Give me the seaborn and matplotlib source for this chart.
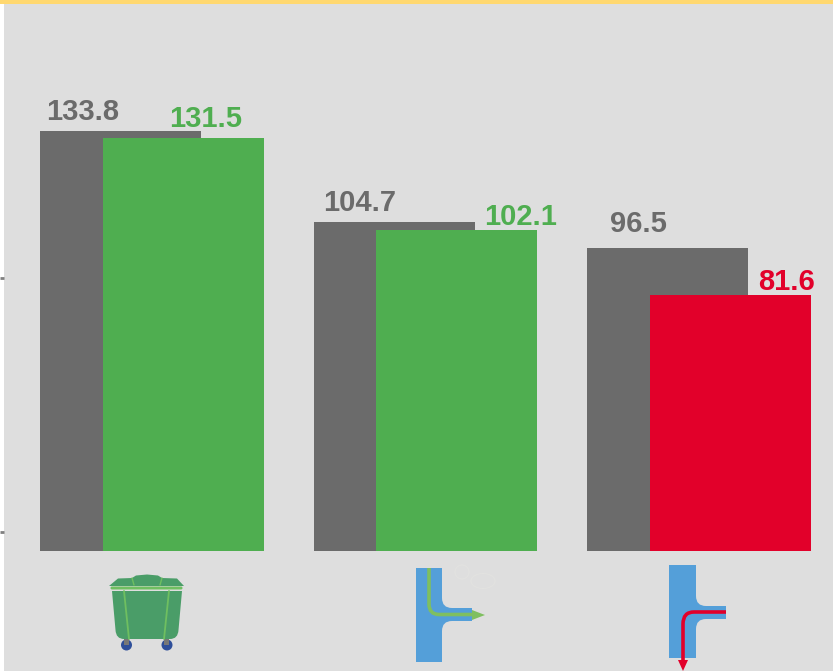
import numpy as np
import pandas as pd
import seaborn as sns
import matplotlib.pyplot as plt
from matplotlib.patches import Rectangle, Polygon, Circle, Ellipse, PathPatch, FancyBboxPatch
from matplotlib.path import Path

# values
groups = [0, 1, 2]
grey_values = [133.8, 104.7, 96.5]
front_values = [131.5, 102.1, 81.6]
front_status = ["good", "good", "bad"]
tick_values = [6.0, 86.8]

BG = "#DEDEDE"
GREY = "#6B6B6B"
GREEN = "#4FAE50"
RED = "#E2002A"
BLUE = "#549FD9"

sns.set_theme(style="white")
plt.rcParams['font.family'] = ['Liberation Sans', 'DejaVu Sans']

W, H = 833, 671
fig = plt.figure(figsize=(W / 100, H / 100), dpi=100, facecolor="white")

# plot area starts 4px in from the left and the top
ax = fig.add_axes([4 / W, 0, (W - 4) / W, (H - 4) / H])
ax.set_facecolor(BG)

grey_df = pd.DataFrame({"group": groups, "value": grey_values})
front_df = pd.DataFrame({"group": groups, "value": front_values, "status": front_status})
front_df["group"] = front_df["group"] + 62.5 / 273.5  # front bars sit shifted right

sns.barplot(data=grey_df, x="group", y="value", native_scale=True, color=GREY,
            saturation=1, width=161 / 273.5, linewidth=0, ax=ax, zorder=2)
sns.barplot(data=front_df, x="group", y="value", hue="status", native_scale=True,
            palette={"good": GREEN, "bad": RED}, saturation=1, dodge=False,
            width=161 / 273.5, linewidth=0, legend=False, ax=ax, zorder=3)

px_per_unit = 3.14
ax.set_xlim((4 - 120.7) / 273.5, (W - 120.7) / 273.5)
ax.set_ylim(-(H - 551) / px_per_unit, (551 - 4) / px_per_unit)
ax.set_xlabel("")
ax.set_ylabel("")
ax.set_xticks([])
ax.set_yticks(tick_values)
ax.set_yticklabels([])
ax.tick_params(axis="y", left=True, length=2.9, width=2, color="#808080", pad=0)
sns.despine(ax=ax, left=True, bottom=True)

# yellow strip across the top
fig.add_artist(Rectangle((0, (H - 4) / H), 1, 4 / H, transform=fig.transFigure,
                         facecolor="#FFD870", edgecolor="none"))

# overlay in reference pixels for the labels and icons
ov = fig.add_axes([0, 0, 1, 1], facecolor="none")
ov.set_xlim(0, W)
ov.set_ylim(H, 0)
ov.axis("off")

grey_label_pos = [(83, 120), (360, 211), (638, 232)]
front_label_pos = [(206, 127), (520.5, 225), (787, 290)]
for v, (x, y) in zip(grey_values, grey_label_pos):
    ov.text(x, y, f"{v:.1f}", color=GREY, fontsize=21, fontweight="bold", ha="center", va="baseline")
for v, s, (x, y) in zip(front_values, front_status, front_label_pos):
    ov.text(x, y, f"{v:.1f}", color=GREEN if s == "good" else RED, fontsize=21,
            fontweight="bold", ha="center", va="baseline")

# bin icon
BIN = "#4A9D68"
LID = "#6FBF60"
for cx in (126.5, 167):
    ov.add_patch(Circle((cx, 645), 5.5, facecolor="#2F4F9A", edgecolor="none"))
    ov.add_patch(Rectangle((cx - 2.5, 637), 5, 8, facecolor="#777777", edgecolor="none"))
ov.add_patch(PathPatch(Path([(112, 591), (182, 591), (178.5, 630), (178, 639), (170, 639), (124, 639),
                             (116, 639), (115.5, 630), (112, 591)],
                            [Path.MOVETO, Path.LINETO, Path.LINETO, Path.CURVE3, Path.CURVE3, Path.LINETO,
                             Path.CURVE3, Path.CURVE3, Path.CLOSEPOLY]),
                       facecolor=BIN, edgecolor="none"))
ov.add_patch(Polygon([(109, 586), (118, 578.5), (132, 578), (136, 575.5), (147, 574.5), (158, 575.5),
                      (162, 578), (177, 578.5), (184, 586)], closed=True, facecolor=BIN, edgecolor="none"))
ov.plot([132, 134], [578, 585], color=LID, lw=1)
ov.plot([162, 160], [578, 585], color=LID, lw=1)
ov.add_patch(FancyBboxPatch((110.5, 586.5), 72, 3, boxstyle="round,pad=0,rounding_size=1.5",
                            facecolor=LID, edgecolor="none"))
ov.plot([124, 129], [591, 639], color=LID, lw=1.3)
ov.plot([169, 164], [591, 639], color=LID, lw=1.3)


def junction(left, right, top, bottom, end, arm_top, arm_bot):
    verts = [(left, top), (right, top), (right, arm_top - 10), (right, arm_top), (right + 10, arm_top),
             (end, arm_top), (end, arm_bot), (right + 10, arm_bot), (right, arm_bot), (right, arm_bot + 10),
             (right, bottom), (left, bottom), (left, top)]
    codes = [Path.MOVETO, Path.LINETO, Path.LINETO, Path.CURVE3, Path.CURVE3,
             Path.LINETO, Path.LINETO, Path.LINETO, Path.CURVE3, Path.CURVE3,
             Path.LINETO, Path.LINETO, Path.CLOSEPOLY]
    return PathPatch(Path(verts, codes), facecolor=BLUE, edgecolor="none")


# middle icon, green line turning off to the side
ov.add_patch(Ellipse((462, 572), 14, 14, facecolor="none", edgecolor="#E2E2E0", lw=0.8))
ov.add_patch(Ellipse((483, 581), 24, 15, facecolor="none", edgecolor="#E2E2E0", lw=0.8))
ov.add_patch(junction(416, 442, 568, 662, 472, 608, 621))
line_green = "#7FBF60"
ov.add_patch(PathPatch(Path([(429, 568), (429, 604), (429, 614.5), (439, 614.5), (474, 614.5)],
                            [Path.MOVETO, Path.LINETO, Path.CURVE3, Path.CURVE3, Path.LINETO]),
                       facecolor="none", edgecolor=line_green, lw=2.6))
ov.add_patch(Polygon([(472, 610), (485, 615), (472, 620)], closed=True, facecolor=line_green, edgecolor="none"))

# right icon, red line turning down
ov.add_patch(junction(669, 696, 565, 658, 726, 606, 619))
ov.add_patch(PathPatch(Path([(726, 612), (694, 612), (683, 612), (683, 624), (683, 662)],
                            [Path.MOVETO, Path.LINETO, Path.CURVE3, Path.CURVE3, Path.LINETO]),
                       facecolor="none", edgecolor=RED, lw=2.6))
ov.add_patch(Polygon([(678, 660), (688, 660), (683, 671)], closed=True, facecolor=RED, edgecolor="none"))

fig.savefig("out.png", dpi=100)
plt.close(fig)
